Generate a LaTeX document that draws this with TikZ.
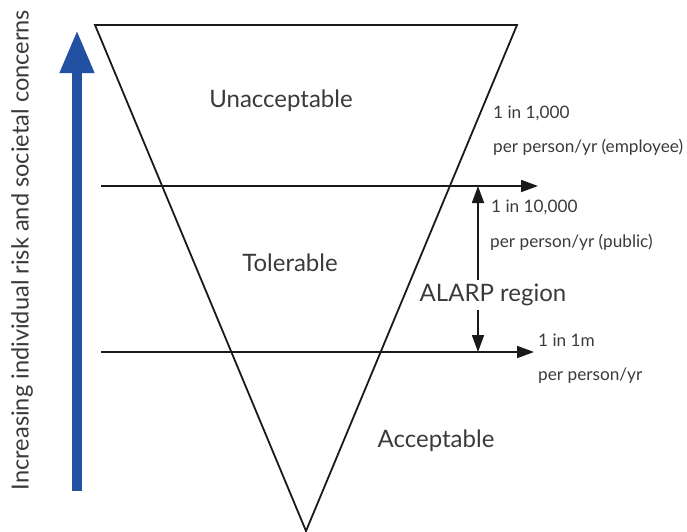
\documentclass[tikz,border=0pt]{standalone}
\usepackage{fontspec}
\setmainfont{Lato}
\usetikzlibrary{arrows.meta}
\definecolor{ink}{HTML}{1A1A1A}
\definecolor{txt}{HTML}{3A3A3A}
\definecolor{riskblue}{HTML}{2251A3}
\begin{document}
\begin{tikzpicture}[x=1pt,y=-1pt,
  edge/.style={draw=ink,line width=1.8pt},
  level/.style={draw=ink,line width=1.8pt,-{Triangle[length=17pt,width=12pt]}},
  bigtxt/.style={text=txt,font=\fontsize{24}{28}\selectfont,inner sep=0pt},
  sidetxt/.style={text=txt,font=\fontsize{23.6}{28}\selectfont,inner sep=0pt},
  smalltxt/.style={text=txt,font=\fontsize{17.2}{20}\selectfont,inner sep=0pt,anchor=west}]
\useasboundingbox (0,0) rectangle (687,531);
% inverted risk triangle
\coordinate (tl) at (95,25);
\coordinate (tr) at (517,25);
\coordinate (apex) at (306,531);
\draw[edge,line join=miter] (apex) -- (tl) -- (tr) -- cycle;
% tolerability boundaries
\coordinate (l1s) at (101,186);
\coordinate (l1e) at (538,186);
\coordinate (l2s) at (101,352);
\coordinate (l2e) at (534,352);
\draw[level] (l1s) -- (l1e);
\draw[level] (l2s) -- (l2e);
% region labels
\node[bigtxt] (unacc) at (281,101) {Unacceptable};
\node[bigtxt] (tol) at (290,263) {Tolerable};
\node[bigtxt] (acc) at (436,441) {Acceptable};
\node[bigtxt] (alarp) at (493,295) {ALARP region};
% ALARP span arrows
\coordinate (upt) at (478,186);
\coordinate (dnt) at (478,352);
\draw[level] (alarp.north -| upt) ++(0,-4) -- (upt);
\draw[level] (alarp.south -| dnt) ++(0,4) -- (dnt);
% risk criteria
\node[smalltxt] (c1a) at (493,113) {1 in 1,000};
\node[smalltxt] (c1b) at (493,147) {per person/yr (employee)};
\node[smalltxt] (c2a) at (491,207) {1 in 10,000};
\node[smalltxt] (c2b) at (490,242) {per person/yr (public)};
\node[smalltxt] (c3a) at (538,340) {1 in 1m};
\node[smalltxt] (c3b) at (538,376) {per person/yr};
% increasing risk axis
\coordinate (ax0) at (77,491);
\coordinate (ax1) at (77,30);
\draw[riskblue,line width=10pt,-{Triangle[length=43pt,width=32pt]}] (ax0) -- (ax1);
\node[sidetxt,rotate=90] (axlab) at (22,250) {Increasing individual risk and societal concerns};
\end{tikzpicture}
\end{document}
